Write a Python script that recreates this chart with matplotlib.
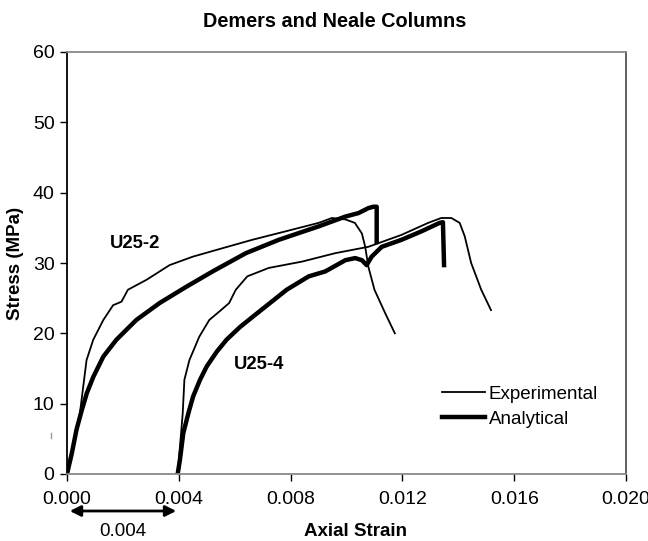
import matplotlib
matplotlib.use("Agg")
import matplotlib.pyplot as plt
from matplotlib.lines import Line2D
from matplotlib.patches import FancyArrowPatch

plt.rcParams['font.family'] = ['Liberation Sans', 'DejaVu Sans']

# U25-2 experimental
u252_exp_strain = [0.0, 0.00025, 0.00046, 0.0007, 0.00094, 0.0013, 0.00165, 0.00195, 0.00218, 0.00284,
                   0.00367, 0.0045, 0.00556, 0.00663, 0.00782, 0.009, 0.00948, 0.00996,
                   0.0103, 0.01055, 0.01067, 0.01078, 0.0110, 0.01138, 0.01173]
u252_exp_stress = [0.0, 4.5, 8.6, 16.2, 19.1, 21.9, 24.0, 24.5, 26.2, 27.6,
                   29.7, 30.9, 32.1, 33.3, 34.5, 35.7, 36.4, 36.2,
                   35.7, 34.2, 32.3, 29.5, 26.2, 22.9, 20.0]
# U25-2 analytical
u252_ana_strain = [0.0, 0.00017, 0.00034, 0.00053, 0.00071, 0.00094, 0.0013, 0.00177, 0.00248,
                   0.00331, 0.00426, 0.00521, 0.0064, 0.00758, 0.009, 0.00996, 0.01043,
                   0.01078, 0.01096, 0.01108, 0.01108]
u252_ana_stress = [0.0, 2.9, 6.3, 9.1, 11.5, 13.8, 16.7, 19.1, 21.9,
                   24.3, 26.6, 28.8, 31.4, 33.3, 35.2, 36.6, 37.1,
                   37.8, 38.0, 38.0, 33.0]
# U25-4 experimental
u254_exp_strain = [0.00396, 0.00414, 0.0042, 0.00438, 0.00473, 0.00509, 0.00545, 0.0058, 0.00604,
                   0.00645, 0.00722, 0.00841, 0.0096, 0.01078, 0.01197, 0.01292, 0.01339,
                   0.01375, 0.01405, 0.01423, 0.01446, 0.01482, 0.01517]
u254_exp_stress = [0.0, 8.6, 13.4, 16.2, 19.5, 21.9, 23.1, 24.3, 26.2,
                   28.1, 29.3, 30.2, 31.4, 32.3, 34.0, 35.7, 36.4,
                   36.4, 35.7, 33.8, 30.0, 26.2, 23.3]
# U25-4 analytical
u254_ana_strain = [0.00396, 0.00404, 0.00416, 0.00434, 0.00451, 0.00476, 0.0050, 0.00536, 0.00571,
                   0.00619, 0.00666, 0.00726, 0.00786, 0.00865, 0.00924,
                   0.00996, 0.01031, 0.01055, 0.01072, 0.0109, 0.01126, 0.01197, 0.01268,
                   0.01333, 0.01345, 0.01349]
u254_ana_stress = [0.0, 2.0, 5.8, 8.6, 11.0, 13.4, 15.3, 17.4, 19.1,
                   20.9, 22.4, 24.3, 26.2, 28.1, 28.8,
                   30.4, 30.7, 30.4, 29.7, 30.9, 32.3, 33.3, 34.5,
                   35.7, 35.8, 29.7]

x_ticks = [0.0, 0.004, 0.008, 0.012, 0.016, 0.020]
x_tick_labels = ["0.000", "0.004", "0.008", "0.012", "0.016", "0.020"]
y_ticks = [0, 10, 20, 30, 40, 50, 60]

fig = plt.figure(figsize=(6.48, 5.41), dpi=100)
ax = fig.add_axes([67/648, 1 - 474/541, (626-67)/648, (474-52)/541])

thin = 1.3
thick = 3.2
ax.plot(u252_exp_strain, u252_exp_stress, color='black', lw=thin)
ax.plot(u254_exp_strain, u254_exp_stress, color='black', lw=thin)
ax.plot(u252_ana_strain, u252_ana_stress, color='black', lw=thick, solid_joinstyle='round')
ax.plot(u254_ana_strain, u254_ana_stress, color='black', lw=thick, solid_joinstyle='round')

ax.set_xlim(0, 0.020)
ax.set_ylim(0, 60)
ax.set_xticks(x_ticks)
ax.set_xticklabels(x_tick_labels)
ax.set_yticks(y_ticks)
ax.tick_params(axis='both', direction='out', length=5, width=1, labelsize=14, colors='black')
ax.tick_params(axis='x', pad=7)
ax.tick_params(axis='y', pad=4)

ax.spines['left'].set_color('black')
ax.spines['left'].set_linewidth(1.3)
ax.spines['bottom'].set_color('#888888')
ax.spines['bottom'].set_linewidth(1.3)
ax.spines['top'].set_color('#888888')
ax.spines['top'].set_linewidth(1.3)
ax.spines['right'].set_color('#555555')
ax.spines['right'].set_linewidth(1.3)

ax.set_title("Demers and Neale Columns", fontsize=14.3, fontweight='bold', pad=18, x=(335-67)/(626-67))
ax.set_ylabel("Stress (MPa)", fontsize=13.5, fontweight='bold')
ax.yaxis.set_label_coords((24-67)/(626-67), 0.5)

ax.text(0.00245, 32.8, "U25-2", fontsize=13.3, fontweight='bold', ha='center', va='center')
ax.text(0.00686, 15.5, "U25-4", fontsize=13.3, fontweight='bold', ha='center', va='center')

leg = ax.legend(handles=[Line2D([], [], color='black', lw=thin),
                         Line2D([], [], color='black', lw=thick)],
                labels=["Experimental", "Analytical"],
                loc='lower left', bbox_to_anchor=(0.64, 0.07), frameon=False,
                fontsize=13.5, handlelength=2.3, handletextpad=0.2, labelspacing=0.4)

# dimension arrow under the axis
fig.add_artist(FancyArrowPatch(
    (67/648, 1 - 511/541), (179/648, 1 - 511/541), transform=fig.transFigure,
    arrowstyle='<|-|>', mutation_scale=16, color='black', lw=2))
fig.text(123/648, 1 - 531/541, "0.004", fontsize=13.5, ha='center', va='center')
fig.text(355/648, 1 - 532/541, "Axial Strain", fontsize=13.5, fontweight='bold', ha='center', va='center')

# small stray mark at left
fig.add_artist(Line2D([51/648, 51/648], [1 - 433/541, 1 - 438/541], transform=fig.transFigure,
                      color='#999999', lw=1))

fig.savefig("out.png", dpi=100)
